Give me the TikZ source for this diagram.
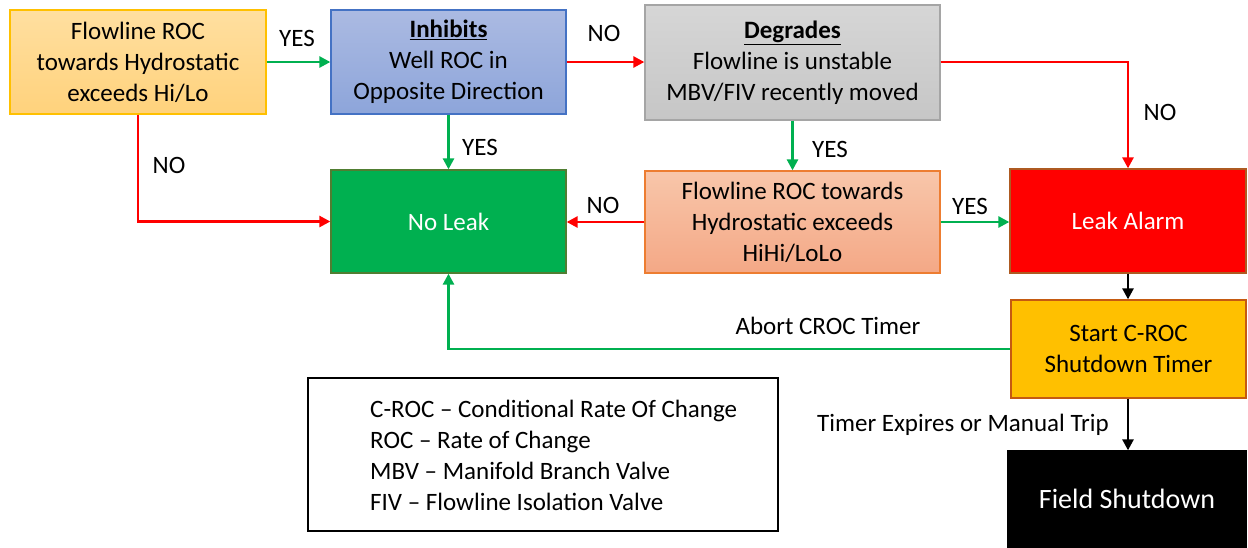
\documentclass[tikz,border=0pt]{standalone}
\usepackage{fontspec}
\setmainfont{Carlito}
\usetikzlibrary{arrows.meta}
\definecolor{agreen}{HTML}{00B050}
\definecolor{ared}{HTML}{FF0000}
\definecolor{aTop}{HTML}{FFDFA0}
\definecolor{aBot}{HTML}{FFD27C}
\definecolor{aBrd}{HTML}{FFC000}
\definecolor{iTop}{HTML}{ABBAE2}
\definecolor{iBot}{HTML}{8DA5DA}
\definecolor{iBrd}{HTML}{4472C4}
\definecolor{dTop}{HTML}{D6D6D6}
\definecolor{dBot}{HTML}{C6C6C6}
\definecolor{dBrd}{HTML}{A5A5A5}
\definecolor{hTop}{HTML}{F8C6AA}
\definecolor{hBot}{HTML}{F4A886}
\definecolor{hBrd}{HTML}{ED7D31}
\definecolor{nlBrd}{HTML}{507E32}
\definecolor{laBrd}{HTML}{AE5A21}
\definecolor{stFill}{HTML}{FFC000}
\definecolor{stBrd}{HTML}{C55A11}
\begin{document}
\begin{tikzpicture}[x=1pt,y=-1pt,
  font=\fontsize{25}{31}\selectfont,
  box/.style={rectangle,inner sep=0pt,align=center,line width=1.3pt},
  lbl/.style={inner sep=0pt,anchor=center},
  garr/.style={draw=agreen,line width=2.6pt,-{Triangle[length=11pt,width=11pt]}},
  rarr/.style={draw=ared,line width=2.6pt,-{Triangle[length=11pt,width=11pt]}},
  karr/.style={draw=black,line width=2.6pt,-{Triangle[length=11pt,width=11pt]}}]
\useasboundingbox (0,0) rectangle (1248,547);
\node[box,draw=aBrd,top color=aTop,bottom color=aBot,minimum width=256pt,minimum height=104pt] (A) at (138,62)
  {Flowline ROC\\towards Hydrostatic\\exceeds Hi/Lo};
\node[box,draw=iBrd,top color=iTop,bottom color=iBot,minimum width=235pt,minimum height=104pt] (Inh) at (448.5,62)
  {\textbf{\underline{Inhibits}}\\Well ROC in\\Opposite Direction};
\node[box,draw=dBrd,top color=dTop,bottom color=dBot,minimum width=295pt,minimum height=115pt] (Deg) at (792.5,62.5)
  {\textbf{\underline{Degrades}}\\Flowline is unstable\\MBV/FIV recently moved};
\node[box,draw=nlBrd,fill=agreen,text=white,minimum width=235pt,minimum height=103pt] (NL) at (448.5,221.5) {No Leak};
\node[box,draw=hBrd,top color=hTop,bottom color=hBot,minimum width=295pt,minimum height=102pt] (HH) at (792.5,222)
  {Flowline ROC towards\\Hydrostatic exceeds\\HiHi/LoLo};
\node[box,draw=laBrd,fill=ared,text=white,minimum width=236pt,minimum height=104pt] (LA) at (1128,221) {Leak Alarm};
\node[box,draw=stBrd,fill=stFill,minimum width=235pt,minimum height=98pt] (ST) at (1128.5,349)
  {Start C-ROC\\Shutdown Timer};
\node[box,draw=black,fill=black,text=white,minimum width=238pt,minimum height=96pt,font=\fontsize{28}{34}\selectfont] (FS) at (1127,499) {Field Shutdown};
\node[box,draw=black,line width=1.5pt,minimum width=470pt,minimum height=153pt] (LG) at (543,454.5) {};
\node[inner sep=0pt,anchor=west,align=left] (LT) at (370,455)
  {C-ROC – Conditional Rate Of Change\\ROC – Rate of Change\\MBV – Manifold Branch Valve\\FIV – Flowline Isolation Valve};
% connectors
\draw[garr] (A.east) -- (Inh.west);
\draw[rarr] (Inh.east) -- (Inh.east -| Deg.west);
\draw[rarr] (Deg.east |- Inh.east) -| (LA.north);
\draw[rarr] (A.south) |- (NL.west);
\draw[garr] (Inh.south) -- (NL.north);
\draw[garr] (Deg.south) -- (HH.north);
\draw[rarr] (HH.west) -- (NL.east |- HH.west);
\draw[garr] (HH.east) -- (HH.east -| LA.west);
\draw[karr] (LA.south) -- (LA.south |- ST.north);
\draw[garr] (ST.west) -| (NL.south);
\draw[karr] (LA.south |- ST.south) -- (LA.south |- FS.north);
% labels
\node[lbl] (l1) at (297,38) {YES};
\node[lbl] (l2) at (604,33) {NO};
\node[lbl] (l3) at (1160,112) {NO};
\node[lbl] (l4) at (169,165) {NO};
\node[lbl] (l5) at (480,147) {YES};
\node[lbl] (l6) at (830,149) {YES};
\node[lbl] (l7) at (603,205) {NO};
\node[lbl] (l8) at (970,206) {YES};
\node[lbl] (l9) at (828,326) {Abort CROC Timer};
\node[lbl] (l10) at (963,425) {Timer Expires or Manual Trip};
\end{tikzpicture}
\end{document}
